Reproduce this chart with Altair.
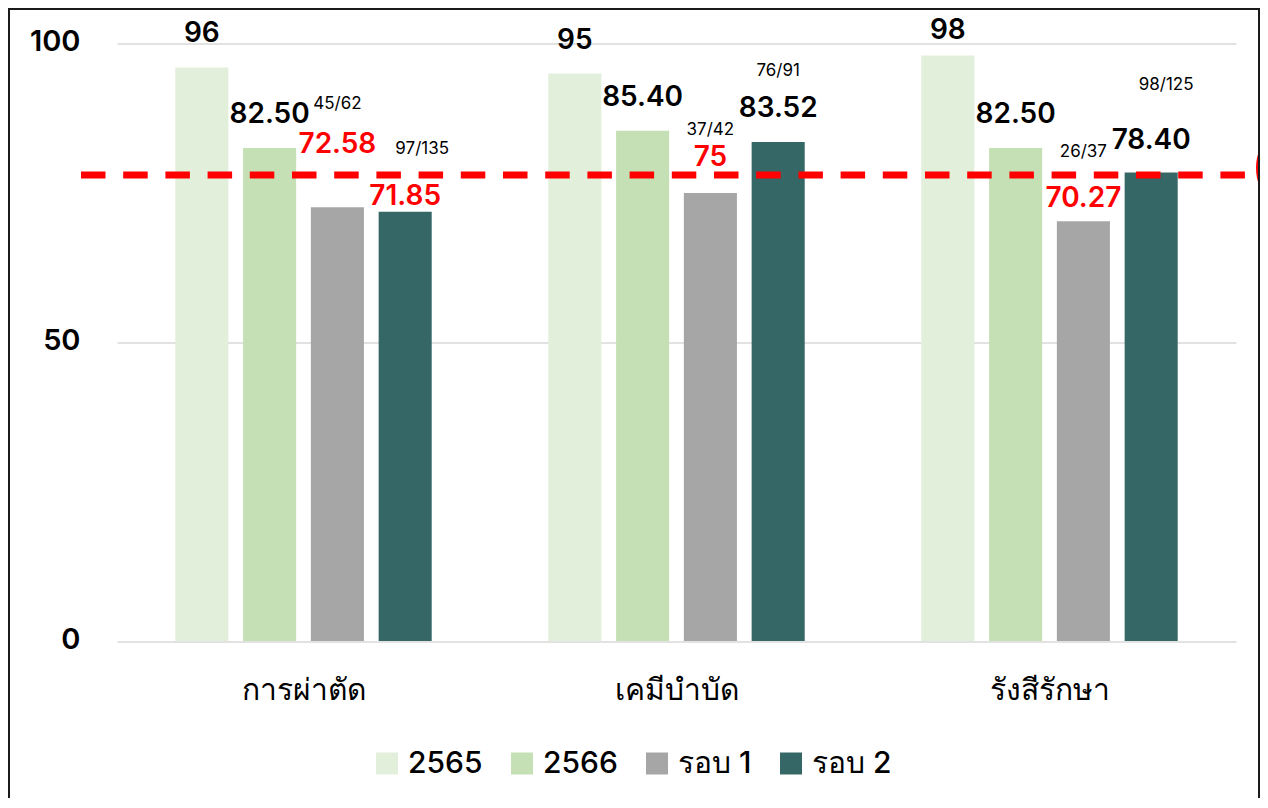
import altair as alt
import pandas as pd

# ---------------- data ----------------
categories = ["การผ่าตัด", "เคมีบำบัด", "รังสีรักษา"]
series = ["2565", "2566", "รอบ 1", "รอบ 2"]
values_2565 = [96, 95, 98]
values_2566 = [82.50, 85.40, 82.50]
values_round1 = [72.58, 75, 70.27]
values_round2 = [71.85, 83.52, 78.40]
fractions_round1 = ["45/62", "37/42", "26/37"]
fractions_round2 = ["97/135", "76/91", "98/125"]
target = 78
y_ticks = [0, 50, 100]

# ---------------- layout / style ----------------
colors = ["#e2efda", "#c5e0b4", "#a6a6a6", "#366767"]
FONT = "Inter"
PLOT_W, PLOT_H = 1119, 597.5
PPU = PLOT_H / 100.0
# pixel lift of the value label centre above the bar top (per series, per category)
value_lift = [[33, 32, 24], [33, 33, 33], [62, 35, 22], [15, 33, 32]]
# pixel lift and horizontal shift of fraction labels (round 1, round 2)
frac_lift = [[103, 63, 69], [63, 71, 88]]
frac_shift = [[0, 0, 0], [17, 0, 15]]

table = [values_2565, values_2566, values_round1, values_round2]


def fmt(v):
    return str(int(v)) if float(v).is_integer() else f"{v:.2f}"


rows = []
for i, c in enumerate(categories):
    for j, s in enumerate(series):
        v = table[j][i]
        rows.append(dict(cat=c, series=s, value=v, text=fmt(v),
                         color="#ff0000" if v < target else "#000000",
                         ly=v + value_lift[j][i] / PPU))
df = pd.DataFrame(rows)

frows = []
for k, (s, fr) in enumerate([("รอบ 1", fractions_round1), ("รอบ 2", fractions_round2)]):
    vals = values_round1 if k == 0 else values_round2
    for i, c in enumerate(categories):
        frows.append(dict(cat=c, series=s, text=fr[i],
                          ly=vals[i] + frac_lift[k][i] / PPU,
                          shift=frac_shift[k][i]))
fdf = pd.DataFrame(frows)

yscale = alt.Scale(domain=[0, 100], nice=False, zero=True)
xscale = alt.Scale(domain=categories, paddingInner=0, paddingOuter=0)
xoff = alt.XOffset("series:N", sort=series,
                   scale=alt.Scale(domain=series, paddingInner=0.217, paddingOuter=0.86))

xenc = alt.X("cat:N", sort=categories, scale=xscale,
             axis=alt.Axis(title=None, labelAngle=0, domain=False, ticks=False, tickSize=0,
                           labelFontSize=30, labelFont=FONT, labelFontWeight=500,
                           labelColor="#000000", labelPadding=49, labelBaseline="middle"))

bars = alt.Chart(df).mark_bar().encode(
    x=xenc,
    xOffset=xoff,
    y=alt.Y("value:Q", scale=yscale,
            axis=alt.Axis(title=None, values=y_ticks, domain=False, ticks=False, tickSize=0,
                          labelFontSize=29, labelFont=FONT, labelFontWeight=600,
                          labelColor="#000000", labelPadding=37, labelOffset=-2,
                          gridColor="#d9d9d9", gridWidth=1.5)),
    color=alt.Color("series:N", sort=series,
                    scale=alt.Scale(domain=series, range=colors),
                    legend=alt.Legend(title=None, orient="none", legendX=255, legendY=705,
                                      direction="horizontal", columns=4,
                                      symbolType="square", symbolSize=484,
                                      symbolStrokeWidth=0, symbolOpacity=1,
                                      labelFontSize=30, labelFont=FONT, labelFontWeight=500,
                                      labelColor="#000000", labelOffset=6,
                                      columnPadding=24, padding=0)),
)

value_labels = alt.Chart(df).mark_text(
    font=FONT, fontSize=28, fontWeight=600, baseline="middle", align="center"
).encode(
    x=alt.X("cat:N", sort=categories, scale=xscale),
    xOffset=xoff,
    y=alt.Y("ly:Q", scale=yscale),
    text="text:N",
    color=alt.Color("color:N", scale=None),
)

frac_layers = []
for sh in sorted(set(fdf["shift"])):
    frac_layers.append(
        alt.Chart(fdf).transform_filter(alt.datum.shift == sh).mark_text(
            font=FONT, fontSize=17, baseline="middle", align="center", dx=sh, color="#000000"
        ).encode(
            x=alt.X("cat:N", sort=categories, scale=xscale),
            xOffset=xoff,
            y=alt.Y("ly:Q", scale=yscale),
            text="text:N",
        )
    )

target_df = pd.DataFrame({"target": [target]})
target_line = alt.Chart(target_df).mark_rule(
    color="#ff0000", strokeWidth=7, strokeDash=[24.5, 17.7]
).encode(
    y=alt.Y("target:Q", scale=yscale),
    x=alt.value(-36),
    x2=alt.value(1160),
)

marker = alt.Chart(target_df).mark_point(
    shape="circle", filled=True, color="#ff0000", opacity=1, size=10000
).encode(x=alt.value(1189), y=alt.value(124.5))

frame = alt.Chart(target_df).mark_rect(
    fill="transparent", stroke="#1a1a1a", strokeWidth=2
).encode(
    x=alt.value(-108), x2=alt.value(1142),
    y=alt.value(-34.5), y2=alt.value(820),
)

chart = alt.layer(bars, target_line, value_labels, *frac_layers, marker, frame).properties(
    width=PLOT_W, height=PLOT_H,
    padding={"left": 109, "top": 35.5, "right": 24, "bottom": 157},
    autosize=alt.AutoSizeParams(type="none"),
    background="#ffffff",
).configure_view(stroke=None)

chart.save("out.html", embed_options={"renderer": "svg", "actions": False})
